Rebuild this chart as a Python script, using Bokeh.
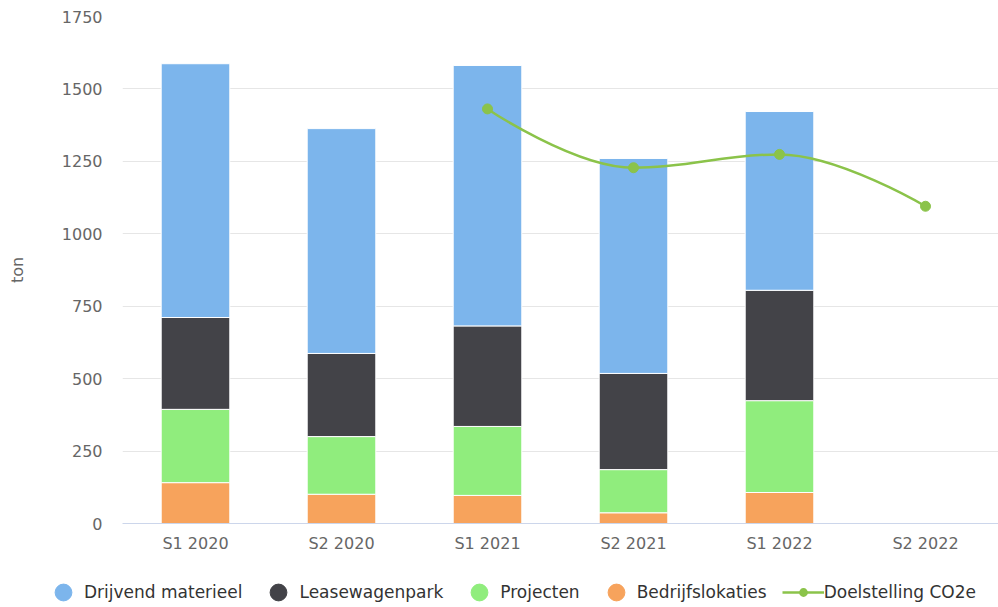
from bokeh.plotting import figure
from bokeh.models import (FactorRange, Range1d, Legend, LegendItem, ColumnDataSource,
                          FixedTicker)
from bokeh.embed import file_html
from bokeh.resources import INLINE

# ---- data ----
categories = ["S1 2020", "S2 2020", "S1 2021", "S2 2021", "S1 2022", "S2 2022"]
bedrijfslokaties = [141, 101, 97, 37, 107, float("nan")]
projecten = [253, 199, 238, 149, 317, float("nan")]
leasewagenpark = [317, 287, 347, 332, 381, float("nan")]
drijvend_materieel = [876, 776, 899, 742, 617, float("nan")]
target_categories = ["S1 2021", "S2 2021", "S1 2022", "S2 2022"]
target_values = [1431, 1228, 1274, 1095]
y_ticks = [0, 250, 500, 750, 1000, 1250, 1500, 1750]

series_names = ["Drijvend materieel", "Leasewagenpark", "Projecten", "Bedrijfslokaties"]
series_colors = {"Drijvend materieel": "#7cb5ec", "Leasewagenpark": "#434348",
                 "Projecten": "#90ed7d", "Bedrijfslokaties": "#f7a35c"}
line_color = "#8bc34a"
FONT = "DejaVu Sans"

source = ColumnDataSource(dict(cat=categories,
                               Bedrijfslokaties=bedrijfslokaties,
                               Projecten=projecten,
                               Leasewagenpark=leasewagenpark,
                               Drijvend=drijvend_materieel))

p = figure(x_range=FactorRange(factors=categories, range_padding=0),
           y_range=Range1d(0, 1750), width=998, height=565,
           output_backend="svg", toolbar_location=None,
           min_border_left=122, min_border_right=0, min_border_top=16,
           min_border_bottom=42)
p.outline_line_color = None
p.background_fill_color = "white"
p.border_fill_color = "white"

stack_keys = ["Bedrijfslokaties", "Projecten", "Leasewagenpark", "Drijvend"]
stack_colors = [series_colors["Bedrijfslokaties"], series_colors["Projecten"],
                series_colors["Leasewagenpark"], series_colors["Drijvend materieel"]]
p.vbar_stack(stack_keys, x="cat", width=0.47, color=stack_colors, source=source,
             line_color="white", line_width=1)

# ---- spline (Highcharts-like) ----
def factor_pos(c):
    return categories.index(c) + 0.5

xs = [factor_pos(c) for c in target_categories]
ys = list(target_values)
n = len(xs)
sm = 1.5
left = [None] * n
right = [None] * n
for i in range(n):
    if 0 < i < n - 1:
        lx = (sm * xs[i] + xs[i - 1]) / (sm + 1)
        ly = (sm * ys[i] + ys[i - 1]) / (sm + 1)
        rx = (sm * xs[i] + xs[i + 1]) / (sm + 1)
        ry = (sm * ys[i] + ys[i + 1]) / (sm + 1)
        corr = (ry - ly) * (rx - xs[i]) / (rx - lx) + ys[i] - ry
        ly += corr
        ry += corr
        if ly > ys[i - 1] and ly > ys[i]:
            ly = max(ys[i - 1], ys[i]); ry = 2 * ys[i] - ly
        elif ly < ys[i - 1] and ly < ys[i]:
            ly = min(ys[i - 1], ys[i]); ry = 2 * ys[i] - ly
        if ry > ys[i + 1] and ry > ys[i]:
            ry = max(ys[i + 1], ys[i]); ly = 2 * ys[i] - ry
        elif ry < ys[i + 1] and ry < ys[i]:
            ry = min(ys[i + 1], ys[i]); ly = 2 * ys[i] - ry
        left[i] = (lx, ly)
        right[i] = (rx, ry)
    else:
        left[i] = right[i] = (xs[i], ys[i])

bz = dict(x0=xs[:-1], y0=ys[:-1], x1=xs[1:], y1=ys[1:],
          cx0=[right[i][0] for i in range(n - 1)], cy0=[right[i][1] for i in range(n - 1)],
          cx1=[left[i][0] for i in range(1, n)], cy1=[left[i][1] for i in range(1, n)])
p.bezier(x0="x0", y0="y0", x1="x1", y1="y1", cx0="cx0", cy0="cy0", cx1="cx1", cy1="cy1",
         source=ColumnDataSource(bz), line_color=line_color, line_width=2.5)
p.scatter(x=target_categories, y=target_values, marker="circle", size=10,
          fill_color=line_color, line_color=line_color)

# ---- axes ----
p.xgrid.grid_line_color = None
p.ygrid.grid_line_color = "#e6e6e6"
p.ygrid.grid_line_width = 1

p.yaxis.ticker = FixedTicker(ticks=y_ticks)
p.yaxis.axis_line_color = None
p.yaxis.major_tick_line_color = None
p.yaxis.minor_tick_line_color = None
p.yaxis.major_label_text_font = FONT
p.yaxis.major_label_text_font_size = "16px"
p.yaxis.major_label_text_color = "#666666"
p.yaxis.major_label_standoff = 14
p.yaxis.axis_label = "ton"
p.yaxis.axis_label_text_font = FONT
p.yaxis.axis_label_text_font_style = "normal"
p.yaxis.axis_label_text_font_size = "16px"
p.yaxis.axis_label_text_color = "#666666"
p.yaxis.axis_label_standoff = 32

p.xaxis.axis_line_color = "#ccd6eb"
p.xaxis.axis_line_width = 1
p.xaxis.major_tick_line_color = None
p.xaxis.minor_tick_line_color = None
p.xaxis.major_label_text_font = FONT
p.xaxis.major_label_text_font_size = "16px"
p.xaxis.major_label_text_color = "#666666"
p.xaxis.major_label_standoff = 4

# ---- legend (separate strip below the chart) ----
lf = figure(width=998, height=42, output_backend="svg", toolbar_location=None,
            x_range=Range1d(0, 1), y_range=Range1d(0, 1),
            x_axis_type=None, y_axis_type=None, min_border=0)
lf.outline_line_color = None
lf.grid.grid_line_color = None
lf.background_fill_color = "white"
lf.border_fill_color = "white"

nan = float("nan")
items = []
for name in series_names:
    r = lf.scatter(x=[nan], y=[nan], marker="circle", size=17,
                   fill_color=series_colors[name], line_color=series_colors[name])
    items.append(LegendItem(label=name, renderers=[r]))
dot = lf.scatter(x=[nan], y=[nan], marker="circle", size=17, fill_color=line_color,
                 line_color="white", line_width=8)
ln = lf.line(x=[nan, nan], y=[nan, nan], line_color=line_color, line_width=2.5)
items.append(LegendItem(label="Doelstelling CO2e", renderers=[dot, ln]))

legend = Legend(items=items, orientation="horizontal", location=(42, -6),
                glyph_width=42, glyph_height=42, label_standoff=0, spacing=15,
                padding=0, margin=0, border_line_alpha=0, background_fill_alpha=0,
                label_text_font=FONT, label_text_font_size="17px",
                label_text_color="#333333")
lf.add_layout(legend, "center")

open("out.html", "w").write(file_html([p, lf], INLINE))
